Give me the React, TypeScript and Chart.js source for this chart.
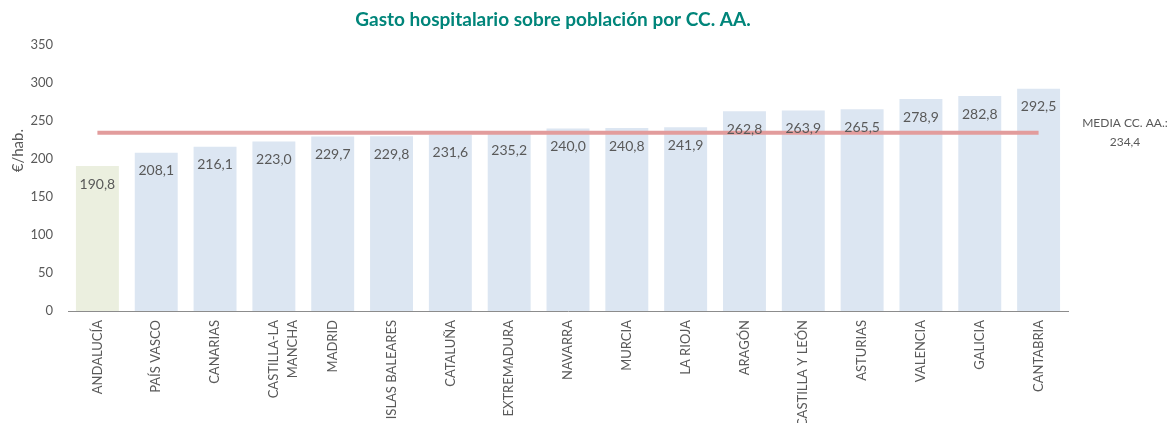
import React, { useEffect, useRef } from "react";
import { Chart, registerables } from "chart.js";

Chart.register(...registerables);

const categories: (string | string[])[] = [
  "ANDALUCÍA",
  "PAÍS VASCO",
  "CANARIAS",
  ["CASTILLA-LA", "MANCHA"],
  "MADRID",
  "ISLAS BALEARES",
  "CATALUÑA",
  "EXTREMADURA",
  "NAVARRA",
  "MURCIA",
  "LA RIOJA",
  "ARAGÓN",
  "CASTILLA Y LEÓN",
  "ASTURIAS",
  "VALENCIA",
  "GALICIA",
  "CANTABRIA",
];

const gasto: number[] = [
  190.8, 208.1, 216.1, 223.0, 229.7, 229.8, 231.6, 235.2, 240.0, 240.8, 241.9,
  262.8, 263.9, 265.5, 278.9, 282.8, 292.5,
];

const mediaValue = 234.4;
const media: number[] = categories.map(() => mediaValue);

const yTicks = { min: 0, max: 350, step: 50 };

const TITLE = "Gasto hospitalario sobre población por CC. AA.";
const Y_TITLE = "€/hab.";
const MEDIA_LABEL = ["MEDIA CC. AA.:", "234,4"];

const FONT = "Lato, 'Noto Sans', sans-serif";
const GREY = "#595959";

const fmt = (v: number) => v.toFixed(1).replace(".", ",");

const overlayPlugin = {
  id: "overlay",
  afterDatasetsDraw(chart: any) {
    const ctx = chart.ctx as CanvasRenderingContext2D;
    const meta = chart.getDatasetMeta(1);
    ctx.save();
    ctx.font = `14px ${FONT}`;
    ctx.fillStyle = GREY;
    ctx.textAlign = "center";
    ctx.textBaseline = "middle";
    meta.data.forEach((bar: any, i: number) => {
      ctx.fillText(fmt(gasto[i]), bar.x, bar.y + 18);
    });
    // media annotation
    const yS = chart.scales.y;
    const ym = yS.getPixelForValue(mediaValue);
    ctx.font = `12px ${FONT}`;
    const ax = chart.chartArea.right + 57;
    ctx.fillText(MEDIA_LABEL[0], ax, ym - 10);
    ctx.fillText(MEDIA_LABEL[1], ax, ym + 9);
    // y axis title
    ctx.save();
    ctx.font = `15px ${FONT}`;
    ctx.translate(10, yS.getPixelForValue(211));
    ctx.rotate(-Math.PI / 2);
    ctx.fillText(Y_TITLE, 0, 0);
    ctx.restore();
    // title
    ctx.font = `bold 19px ${FONT}`;
    ctx.fillStyle = "#00857A";
    ctx.fillText(TITLE, 545, 12);
    ctx.restore();
  },
};

export default function App() {
  const ref = useRef<HTMLCanvasElement | null>(null);
  useEffect(() => {
    if (!ref.current) return;
    const chart = new Chart(ref.current, {
      type: "bar",
      data: {
        labels: categories,
        datasets: [
          {
            type: "line",
            label: "Media",
            data: media,
            borderColor: "#E29C9C",
            borderWidth: 4,
            pointRadius: 0,
            fill: false,
            order: 0,
          } as any,
          {
            type: "bar",
            label: "€/hab.",
            data: gasto,
            backgroundColor: gasto.map((_, i) => (i === 0 ? "#EBEFDF" : "#DCE6F2")),
            barPercentage: 0.73,
            categoryPercentage: 1,
            order: 1,
          },
        ],
      },
      options: {
        animation: false,
        responsive: false,
        maintainAspectRatio: false,
        layout: { padding: { top: 37, right: 100, left: 0, bottom: 0 } },
        plugins: {
          legend: { display: false },
          title: { display: false },
          tooltip: { enabled: false },
        },
        scales: {
          x: {
            grid: { display: false, drawTicks: false },
            border: { display: true, color: "#8C8C8C", width: 1 },
            ticks: {
              color: GREY,
              font: { family: FONT, size: 13, lineHeight: 1.45 },
              minRotation: 90,
              maxRotation: 90,
              autoSkip: false,
              padding: 9,
            },
            afterFit(scale: any) {
              scale.height = 112;
            },
          },
          y: {
            min: yTicks.min,
            max: yTicks.max,
            grid: { display: false, drawTicks: false },
            border: { display: false },
            ticks: {
              stepSize: yTicks.step,
              color: GREY,
              font: { family: FONT, size: 13 },
              padding: 15,
            },
            afterFit(scale: any) {
              scale.width = 60;
            },
          },
        },
      },
      plugins: [overlayPlugin],
    });
    return () => chart.destroy();
  }, []);
  return (
    <div style={{ width: 1160, height: 415 }}>
      <canvas ref={ref} width={1160} height={415} style={{ width: 1160, height: 415 }} />
    </div>
  );
}
